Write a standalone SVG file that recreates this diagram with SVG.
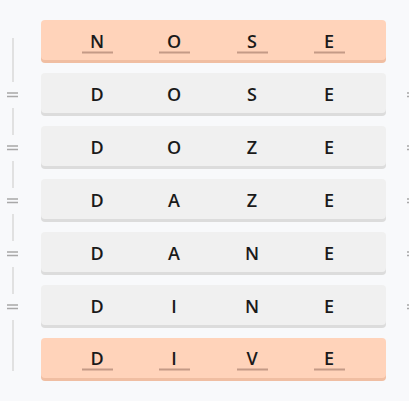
<svg xmlns="http://www.w3.org/2000/svg" width="409" height="401" viewBox="0 0 409 401">
<style>
.bg{fill:#f8f9fb}
.sh-g{fill:#dcdcdc}
.fg-g{fill:#f0f0f0}
.sh-p{fill:#f0bea2}
.fg-p{fill:#ffd3ba}
.t{font-family:"Open Sans","Noto Sans",sans-serif;font-size:18px;font-weight:600;fill:#1a1a1a;text-anchor:middle;dominant-baseline:central}
.ul{stroke:#c49a86;stroke-width:2}
.vl{stroke:#d9d9d9;stroke-width:1.5;fill:none}
.eq{stroke:#a8a8a8;stroke-width:1.3}
</style>
<rect class="bg" x="0" y="0" width="409" height="401"/>
<g id="connectors">
<path class="vl" d="M13 38V82M13 108V135M13 161V188M13 214V241M13 267V294M13 320V371"/>
<g class="eq">
<path d="M7 93H18M7 96.5H18"/>
<path d="M7 146H18M7 149.5H18"/>
<path d="M7 199H18M7 202.5H18"/>
<path d="M7 252H18M7 255.5H18"/>
<path d="M7 305H18M7 308.5H18"/>
<path d="M407 93H409M407 96.5H409"/>
<path d="M407 146H409M407 149.5H409"/>
<path d="M407 199H409M407 202.5H409"/>
<path d="M407 252H409M407 255.5H409"/>
<path d="M407 305H409M407 308.5H409"/>
</g>
</g>
<g id="row1">
<rect class="sh-p" x="41" y="23" width="345" height="40" rx="4"/>
<rect class="fg-p" x="41" y="20" width="345" height="40" rx="4"/>
<text class="t" x="97" y="41">N</text><text class="t" x="174" y="41">O</text><text class="t" x="252" y="41">S</text><text class="t" x="329" y="41">E</text>
<path class="ul" d="M82 52.5H113M159 52.5H190M237 52.5H268M314 52.5H345"/>
</g>
<g id="row2">
<rect class="sh-g" x="41" y="76" width="345" height="40" rx="4"/>
<rect class="fg-g" x="41" y="73" width="345" height="40" rx="4"/>
<text class="t" x="97" y="94">D</text><text class="t" x="174" y="94">O</text><text class="t" x="252" y="94">S</text><text class="t" x="329" y="94">E</text>
</g>
<g id="row3">
<rect class="sh-g" x="41" y="129" width="345" height="40" rx="4"/>
<rect class="fg-g" x="41" y="126" width="345" height="40" rx="4"/>
<text class="t" x="97" y="147">D</text><text class="t" x="174" y="147">O</text><text class="t" x="252" y="147">Z</text><text class="t" x="329" y="147">E</text>
</g>
<g id="row4">
<rect class="sh-g" x="41" y="182" width="345" height="40" rx="4"/>
<rect class="fg-g" x="41" y="179" width="345" height="40" rx="4"/>
<text class="t" x="97" y="200">D</text><text class="t" x="174" y="200">A</text><text class="t" x="252" y="200">Z</text><text class="t" x="329" y="200">E</text>
</g>
<g id="row5">
<rect class="sh-g" x="41" y="235" width="345" height="40" rx="4"/>
<rect class="fg-g" x="41" y="232" width="345" height="40" rx="4"/>
<text class="t" x="97" y="253">D</text><text class="t" x="174" y="253">A</text><text class="t" x="252" y="253">N</text><text class="t" x="329" y="253">E</text>
</g>
<g id="row6">
<rect class="sh-g" x="41" y="288" width="345" height="40" rx="4"/>
<rect class="fg-g" x="41" y="285" width="345" height="40" rx="4"/>
<text class="t" x="97" y="306">D</text><text class="t" x="174" y="306">I</text><text class="t" x="252" y="306">N</text><text class="t" x="329" y="306">E</text>
</g>
<g id="row7">
<rect class="sh-p" x="41" y="341" width="345" height="40" rx="4"/>
<rect class="fg-p" x="41" y="338" width="345" height="40" rx="4"/>
<text class="t" x="97" y="358">D</text><text class="t" x="174" y="358">I</text><text class="t" x="252" y="358">V</text><text class="t" x="329" y="358">E</text>
<path class="ul" d="M82 369.5H113M159 369.5H190M237 369.5H268M314 369.5H345"/>
</g>
</svg>
